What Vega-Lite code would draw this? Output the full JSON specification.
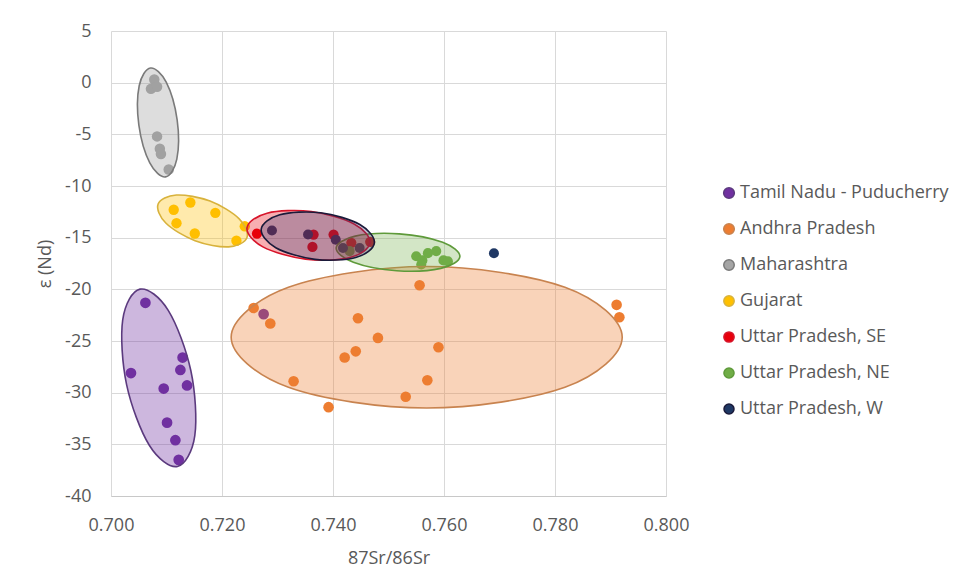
{
  "$schema": "https://vega.github.io/schema/vega-lite/v6.json",
  "width": 555,
  "height": 465,
  "autosize": {"type": "none"},
  "padding": {"left": 111, "top": 31, "right": 300, "bottom": 89},
  "background": "white",
  "config": {
    "font": "Open Sans",
    "view": {"stroke": null},
    "axis": {
      "labelFont": "Open Sans",
      "labelFontSize": 18,
      "labelColor": "#595959",
      "labelFlush": false,
      "titleFont": "Open Sans",
      "titleFontSize": 18,
      "titleFontWeight": "normal",
      "titleColor": "#595959",
      "gridColor": "#D9D9D9",
      "gridWidth": 1,
      "ticks": false
    },
    "legend": {
      "labelFont": "Open Sans",
      "labelFontSize": 18,
      "labelColor": "#595959",
      "labelLimit": 400
    }
  },
  "datasets": {
    "pts": [
      {"region": "Tamil Nadu - Puducherry", "sr": 0.7062, "nd": -21.3},
      {"region": "Tamil Nadu - Puducherry", "sr": 0.7036, "nd": -28.1},
      {"region": "Tamil Nadu - Puducherry", "sr": 0.7129, "nd": -26.6},
      {"region": "Tamil Nadu - Puducherry", "sr": 0.7125, "nd": -27.8},
      {"region": "Tamil Nadu - Puducherry", "sr": 0.7137, "nd": -29.3},
      {"region": "Tamil Nadu - Puducherry", "sr": 0.7095, "nd": -29.6},
      {"region": "Tamil Nadu - Puducherry", "sr": 0.7101, "nd": -32.9},
      {"region": "Tamil Nadu - Puducherry", "sr": 0.7116, "nd": -34.6},
      {"region": "Tamil Nadu - Puducherry", "sr": 0.7122, "nd": -36.5},
      {"region": "Tamil Nadu - Puducherry", "sr": 0.7275, "nd": -22.4},
      {"region": "Andhra Pradesh", "sr": 0.7257, "nd": -21.8},
      {"region": "Andhra Pradesh", "sr": 0.7287, "nd": -23.3},
      {"region": "Andhra Pradesh", "sr": 0.7445, "nd": -22.8},
      {"region": "Andhra Pradesh", "sr": 0.7481, "nd": -24.7},
      {"region": "Andhra Pradesh", "sr": 0.7441, "nd": -26.0},
      {"region": "Andhra Pradesh", "sr": 0.7421, "nd": -26.6},
      {"region": "Andhra Pradesh", "sr": 0.7556, "nd": -19.6},
      {"region": "Andhra Pradesh", "sr": 0.759, "nd": -25.6},
      {"region": "Andhra Pradesh", "sr": 0.7329, "nd": -28.9},
      {"region": "Andhra Pradesh", "sr": 0.757, "nd": -28.8},
      {"region": "Andhra Pradesh", "sr": 0.7531, "nd": -30.4},
      {"region": "Andhra Pradesh", "sr": 0.7392, "nd": -31.4},
      {"region": "Andhra Pradesh", "sr": 0.7911, "nd": -21.5},
      {"region": "Andhra Pradesh", "sr": 0.7916, "nd": -22.7},
      {"region": "Maharashtra", "sr": 0.7078, "nd": 0.3},
      {"region": "Maharashtra", "sr": 0.7072, "nd": -0.6},
      {"region": "Maharashtra", "sr": 0.7083, "nd": -0.4},
      {"region": "Maharashtra", "sr": 0.7083, "nd": -5.2},
      {"region": "Maharashtra", "sr": 0.7088, "nd": -6.4},
      {"region": "Maharashtra", "sr": 0.709, "nd": -6.9},
      {"region": "Maharashtra", "sr": 0.7104, "nd": -8.4},
      {"region": "Gujarat", "sr": 0.7113, "nd": -12.3},
      {"region": "Gujarat", "sr": 0.7143, "nd": -11.6},
      {"region": "Gujarat", "sr": 0.7188, "nd": -12.6},
      {"region": "Gujarat", "sr": 0.7118, "nd": -13.6},
      {"region": "Gujarat", "sr": 0.7151, "nd": -14.6},
      {"region": "Gujarat", "sr": 0.7226, "nd": -15.3},
      {"region": "Gujarat", "sr": 0.7241, "nd": -13.9},
      {"region": "Uttar Pradesh, SE", "sr": 0.7263, "nd": -14.6},
      {"region": "Uttar Pradesh, SE", "sr": 0.7365, "nd": -14.7},
      {"region": "Uttar Pradesh, SE", "sr": 0.7363, "nd": -15.9},
      {"region": "Uttar Pradesh, SE", "sr": 0.7401, "nd": -14.7},
      {"region": "Uttar Pradesh, SE", "sr": 0.7433, "nd": -15.5},
      {"region": "Uttar Pradesh, SE", "sr": 0.7467, "nd": -15.4},
      {"region": "Uttar Pradesh, NE", "sr": 0.755, "nd": -16.8},
      {"region": "Uttar Pradesh, NE", "sr": 0.7561, "nd": -17.2},
      {"region": "Uttar Pradesh, NE", "sr": 0.7571, "nd": -16.5},
      {"region": "Uttar Pradesh, NE", "sr": 0.7586, "nd": -16.3},
      {"region": "Uttar Pradesh, NE", "sr": 0.7599, "nd": -17.2},
      {"region": "Uttar Pradesh, NE", "sr": 0.7607, "nd": -17.3},
      {"region": "Uttar Pradesh, NE", "sr": 0.7559, "nd": -17.6},
      {"region": "Uttar Pradesh, NE", "sr": 0.743, "nd": -16.3},
      {"region": "Uttar Pradesh, W", "sr": 0.729, "nd": -14.3},
      {"region": "Uttar Pradesh, W", "sr": 0.7355, "nd": -14.7},
      {"region": "Uttar Pradesh, W", "sr": 0.7405, "nd": -15.2},
      {"region": "Uttar Pradesh, W", "sr": 0.7418, "nd": -16.0},
      {"region": "Uttar Pradesh, W", "sr": 0.7448, "nd": -16.0},
      {"region": "Uttar Pradesh, W", "sr": 0.769, "nd": -16.5}
    ],
    "outlines": [
      {"region": "Tamil Nadu - Puducherry", "k": 0, "sr": 0.71198, "nd": -37.14},
      {"region": "Tamil Nadu - Puducherry", "k": 1, "sr": 0.7069, "nd": -35.09},
      {"region": "Tamil Nadu - Puducherry", "k": 2, "sr": 0.70281, "nd": -29.22},
      {"region": "Tamil Nadu - Puducherry", "k": 3, "sr": 0.70211, "nd": -22.96},
      {"region": "Tamil Nadu - Puducherry", "k": 4, "sr": 0.70522, "nd": -19.98},
      {"region": "Tamil Nadu - Puducherry", "k": 5, "sr": 0.71031, "nd": -22.03},
      {"region": "Tamil Nadu - Puducherry", "k": 6, "sr": 0.7144, "nd": -27.9},
      {"region": "Tamil Nadu - Puducherry", "k": 7, "sr": 0.7151, "nd": -34.16},
      {"region": "Andhra Pradesh", "k": 0, "sr": 0.79211, "nd": -24.64},
      {"region": "Andhra Pradesh", "k": 1, "sr": 0.78179, "nd": -19.8},
      {"region": "Andhra Pradesh", "k": 2, "sr": 0.75688, "nd": -17.79},
      {"region": "Andhra Pradesh", "k": 3, "sr": 0.73197, "nd": -19.8},
      {"region": "Andhra Pradesh", "k": 4, "sr": 0.72165, "nd": -24.64},
      {"region": "Andhra Pradesh", "k": 5, "sr": 0.73197, "nd": -29.48},
      {"region": "Andhra Pradesh", "k": 6, "sr": 0.75688, "nd": -31.49},
      {"region": "Andhra Pradesh", "k": 7, "sr": 0.78179, "nd": -29.48},
      {"region": "Maharashtra", "k": 0, "sr": 0.70982, "nd": -9.12},
      {"region": "Maharashtra", "k": 1, "sr": 0.71186, "nd": -7.4},
      {"region": "Maharashtra", "k": 2, "sr": 0.71192, "nd": -3.6},
      {"region": "Maharashtra", "k": 3, "sr": 0.70995, "nd": 0.06},
      {"region": "Maharashtra", "k": 4, "sr": 0.70712, "nd": 1.42},
      {"region": "Maharashtra", "k": 5, "sr": 0.70508, "nd": -0.3},
      {"region": "Maharashtra", "k": 6, "sr": 0.70502, "nd": -4.1},
      {"region": "Maharashtra", "k": 7, "sr": 0.70699, "nd": -7.76},
      {"region": "Gujarat", "k": 0, "sr": 0.72449, "nd": -15.01},
      {"region": "Gujarat", "k": 1, "sr": 0.72119, "nd": -15.89},
      {"region": "Gujarat", "k": 2, "sr": 0.71514, "nd": -15.29},
      {"region": "Gujarat", "k": 3, "sr": 0.70987, "nd": -13.58},
      {"region": "Gujarat", "k": 4, "sr": 0.70849, "nd": -11.74},
      {"region": "Gujarat", "k": 5, "sr": 0.71178, "nd": -10.87},
      {"region": "Gujarat", "k": 6, "sr": 0.71784, "nd": -11.46},
      {"region": "Gujarat", "k": 7, "sr": 0.7231, "nd": -13.18},
      {"region": "Uttar Pradesh, NE", "k": 0, "sr": 0.76286, "nd": -16.83},
      {"region": "Uttar Pradesh, NE", "k": 1, "sr": 0.75943, "nd": -17.97},
      {"region": "Uttar Pradesh, NE", "k": 2, "sr": 0.75148, "nd": -18.2},
      {"region": "Uttar Pradesh, NE", "k": 3, "sr": 0.74367, "nd": -17.38},
      {"region": "Uttar Pradesh, NE", "k": 4, "sr": 0.74057, "nd": -15.99},
      {"region": "Uttar Pradesh, NE", "k": 5, "sr": 0.744, "nd": -14.85},
      {"region": "Uttar Pradesh, NE", "k": 6, "sr": 0.75194, "nd": -14.63},
      {"region": "Uttar Pradesh, NE", "k": 7, "sr": 0.75976, "nd": -15.45},
      {"region": "Uttar Pradesh, SE", "k": 0, "sr": 0.74667, "nd": -15.51},
      {"region": "Uttar Pradesh, SE", "k": 1, "sr": 0.74305, "nd": -16.92},
      {"region": "Uttar Pradesh, SE", "k": 2, "sr": 0.73506, "nd": -17.08},
      {"region": "Uttar Pradesh, SE", "k": 3, "sr": 0.72737, "nd": -15.89},
      {"region": "Uttar Pradesh, SE", "k": 4, "sr": 0.7245, "nd": -14.05},
      {"region": "Uttar Pradesh, SE", "k": 5, "sr": 0.72812, "nd": -12.63},
      {"region": "Uttar Pradesh, SE", "k": 6, "sr": 0.73611, "nd": -12.47},
      {"region": "Uttar Pradesh, SE", "k": 7, "sr": 0.7438, "nd": -13.67},
      {"region": "Uttar Pradesh, W", "k": 0, "sr": 0.74745, "nd": -15.52},
      {"region": "Uttar Pradesh, W", "k": 1, "sr": 0.7441, "nd": -16.92},
      {"region": "Uttar Pradesh, W", "k": 2, "sr": 0.73675, "nd": -17.1},
      {"region": "Uttar Pradesh, W", "k": 3, "sr": 0.72969, "nd": -15.97},
      {"region": "Uttar Pradesh, W", "k": 4, "sr": 0.72707, "nd": -14.17},
      {"region": "Uttar Pradesh, W", "k": 5, "sr": 0.73042, "nd": -12.78},
      {"region": "Uttar Pradesh, W", "k": 6, "sr": 0.73778, "nd": -12.59},
      {"region": "Uttar Pradesh, W", "k": 7, "sr": 0.74483, "nd": -13.73}
    ]
  },
  "layer": [
    {
      "data": {"name": "pts"},
      "mark": {"type": "circle", "opacity": 1},
      "encoding": {
        "x": {
          "field": "sr",
          "type": "quantitative",
          "title": "87Sr/86Sr",
          "scale": {"domain": [0.7, 0.8], "nice": false, "zero": false},
          "axis": {
            "values": [0.7, 0.72, 0.74, 0.76, 0.78, 0.8],
            "format": ".3f",
            "domainColor": "#C8C8C8",
            "labelPadding": 20,
            "titlePadding": 15
          }
        },
        "y": {
          "field": "nd",
          "type": "quantitative",
          "title": "ε (Nd)",
          "scale": {"domain": [-40, 5], "nice": false, "zero": false},
          "axis": {
            "values": [-40, -35, -30, -25, -20, -15, -10, -5, 0, 5],
            "labelExpr": "replace(datum.label, '−', '-')",
            "domain": false,
            "labelPadding": 20,
            "titlePadding": 10
          }
        },
        "color": {
          "field": "region",
          "type": "nominal",
          "title": null,
          "scale": {
            "domain": ["Tamil Nadu - Puducherry", "Andhra Pradesh", "Maharashtra", "Gujarat", "Uttar Pradesh, SE", "Uttar Pradesh, NE", "Uttar Pradesh, W"],
            "range": ["#7030A0", "#ED7D31", "#A5A5A5", "#FFC000", "#E8000B", "#70AD47", "#1F3864"]
          },
          "legend": {
            "orient": "none",
            "legendX": 609,
            "legendY": 153,
            "symbolType": "circle",
            "symbolSize": 100,
            "rowPadding": 18,
            "labelOffset": 2
          }
        },
        "size": {
          "field": "region",
          "type": "nominal",
          "scale": {
            "domain": ["Tamil Nadu - Puducherry", "Andhra Pradesh", "Maharashtra", "Gujarat", "Uttar Pradesh, SE", "Uttar Pradesh, NE", "Uttar Pradesh, W"],
            "range": [115, 100, 90, 90, 70, 90, 60]
          },
          "legend": null
        }
      }
    },
    {
      "data": {"name": "outlines"},
      "mark": {"type": "line", "interpolate": "cardinal-closed", "strokeWidth": 1.6},
      "encoding": {
        "x": {"field": "sr", "type": "quantitative"},
        "y": {"field": "nd", "type": "quantitative"},
        "order": {"field": "k", "type": "quantitative"},
        "fill": {
          "field": "region",
          "type": "nominal",
          "scale": {
            "domain": ["Tamil Nadu - Puducherry", "Andhra Pradesh", "Maharashtra", "Gujarat", "Uttar Pradesh, SE", "Uttar Pradesh, NE", "Uttar Pradesh, W"],
            "range": ["#7030A0", "#ED7D31", "#9A9A9A", "#FFC000", "#E8000B", "#70AD47", "#2E3A78"]
          },
          "legend": null
        },
        "fillOpacity": {
          "field": "region",
          "type": "nominal",
          "scale": {
            "domain": ["Tamil Nadu - Puducherry", "Andhra Pradesh", "Maharashtra", "Gujarat", "Uttar Pradesh, SE", "Uttar Pradesh, NE", "Uttar Pradesh, W"],
            "range": [0.35, 0.3, 0.4, 0.32, 0.38, 0.32, 0.45]
          },
          "legend": null
        },
        "stroke": {
          "field": "region",
          "type": "nominal",
          "scale": {
            "domain": ["Tamil Nadu - Puducherry", "Andhra Pradesh", "Maharashtra", "Gujarat", "Uttar Pradesh, SE", "Uttar Pradesh, NE", "Uttar Pradesh, W"],
            "range": ["#5B3A7E", "#C8834F", "#7A7A7A", "#D8B23C", "#D7142A", "#5E9A3A", "#1A1A3A"]
          },
          "legend": null
        }
      }
    }
  ]
}
